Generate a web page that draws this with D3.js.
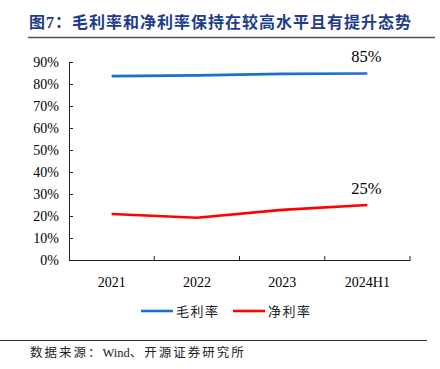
<!DOCTYPE html>
<html lang="zh-cn">
<head>
<meta charset="UTF-8">
<script src="https://cdn.jsdelivr.net/npm/d3@7"></script>
<style>
  body { margin: 0; background: #fff; }
  svg text { font-family: "Liberation Serif", "Noto Sans CJK SC", serif; }
</style>
</head>
<body>
<script>
var categories = ["2021", "2022", "2023", "2024H1"];
var grossMargin = [83.6, 83.9, 84.6, 84.8];
var netMargin = [20.9, 19.2, 22.8, 25.0];
var yTicks = [0, 10, 20, 30, 40, 50, 60, 70, 80, 90];
var seriesNames = ["毛利率", "净利率"];
var endLabels = ["85%", "25%"];

var width = 440, height = 369;
var svg = d3.select("body").append("svg").attr("width", width).attr("height", height);

// title
svg.append("text").attr("x", 29).attr("y", 28)
    .attr("font-family", "Noto Sans CJK SC").attr("font-weight", "bold")
    .attr("font-size", "16px").attr("fill", "#1c3c8c")
    .attr("letter-spacing", "1px")
    .text("图7：毛利率和净利率保持在较高水平且有提升态势");
svg.append("line").attr("x1", 28).attr("x2", 435).attr("y1", 37.5).attr("y2", 37.5)
    .attr("stroke", "#555").attr("stroke-width", 1.5);

var plot = { left: 69, right: 410, top: 62, bottom: 260 };
var x = d3.scaleBand().domain(categories).range([plot.left, plot.right]);
var y = d3.scaleLinear().domain([0, 90]).range([plot.bottom, plot.top]);

var yAxis = svg.append("g").attr("transform", "translate(" + plot.left + ",0)")
    .call(d3.axisLeft(y).tickValues(yTicks).tickSizeInner(-4).tickSizeOuter(0).tickPadding(10)
        .tickFormat(function (d) { return d + "%"; }));
yAxis.selectAll("text").attr("font-size", "14px").attr("fill", "#000")
    .attr("font-family", "Liberation Serif");
yAxis.selectAll("path, line").attr("stroke", "#222");

var xAxis = svg.append("g").attr("transform", "translate(0," + plot.bottom + ")")
    .call(d3.axisBottom(x).tickSize(0).tickPadding(17));
xAxis.selectAll("text").attr("font-size", "14px").attr("fill", "#000")
    .attr("font-family", "Liberation Serif");
xAxis.select(".domain").attr("stroke", "#222");
// category boundary ticks pointing up
xAxis.selectAll(".bound").data(categories).enter().append("line")
    .attr("x1", function (d) { return x(d) + x.bandwidth(); })
    .attr("x2", function (d) { return x(d) + x.bandwidth(); })
    .attr("y1", 0).attr("y2", -4).attr("stroke", "#222");

var line = d3.line()
    .x(function (d, i) { return x(categories[i]) + x.bandwidth() / 2; })
    .y(function (d) { return y(d); });

var colors = ["#1a73c6", "#ff0000"];
[grossMargin, netMargin].forEach(function (s, k) {
    svg.append("path").datum(s).attr("d", line).attr("fill", "none")
        .attr("stroke", colors[k]).attr("stroke-width", 2.6);
    var last = s.length - 1;
    svg.append("text")
        .attr("x", x(categories[last]) + x.bandwidth() / 2 - 1)
        .attr("y", y(s[last]) - 11)
        .attr("text-anchor", "middle").attr("font-size", "16.5px").attr("fill", "#000")
        .text(endLabels[k]);
});

// legend
var lg = svg.append("g").attr("transform", "translate(141,311)");
seriesNames.forEach(function (n, k) {
    var ox = k * 92;
    lg.append("line").attr("x1", ox).attr("x2", ox + 32).attr("y1", 0).attr("y2", 0)
        .attr("stroke", colors[k]).attr("stroke-width", 2.6);
    lg.append("text").attr("x", ox + 35).attr("y", 5)
        .attr("font-family", "Noto Sans CJK SC").attr("font-size", "13px")
        .attr("letter-spacing", "1.5px").attr("fill", "#222").text(n);
});

// source
svg.append("line").attr("x1", 0).attr("x2", 427).attr("y1", 340.5).attr("y2", 340.5)
    .attr("stroke", "#333").attr("stroke-width", 1);
var src = svg.append("text").attr("x", 30).attr("y", 357)
    .attr("font-family", "Liberation Serif, Noto Sans CJK SC").attr("font-size", "12.5px")
    .attr("fill", "#222");
src.append("tspan").attr("letter-spacing", "2px").text("数据来源：");
src.append("tspan").text("Wind");
src.append("tspan").attr("letter-spacing", "2px").text("、开源证券研究所");
</script>
</body>
</html>
